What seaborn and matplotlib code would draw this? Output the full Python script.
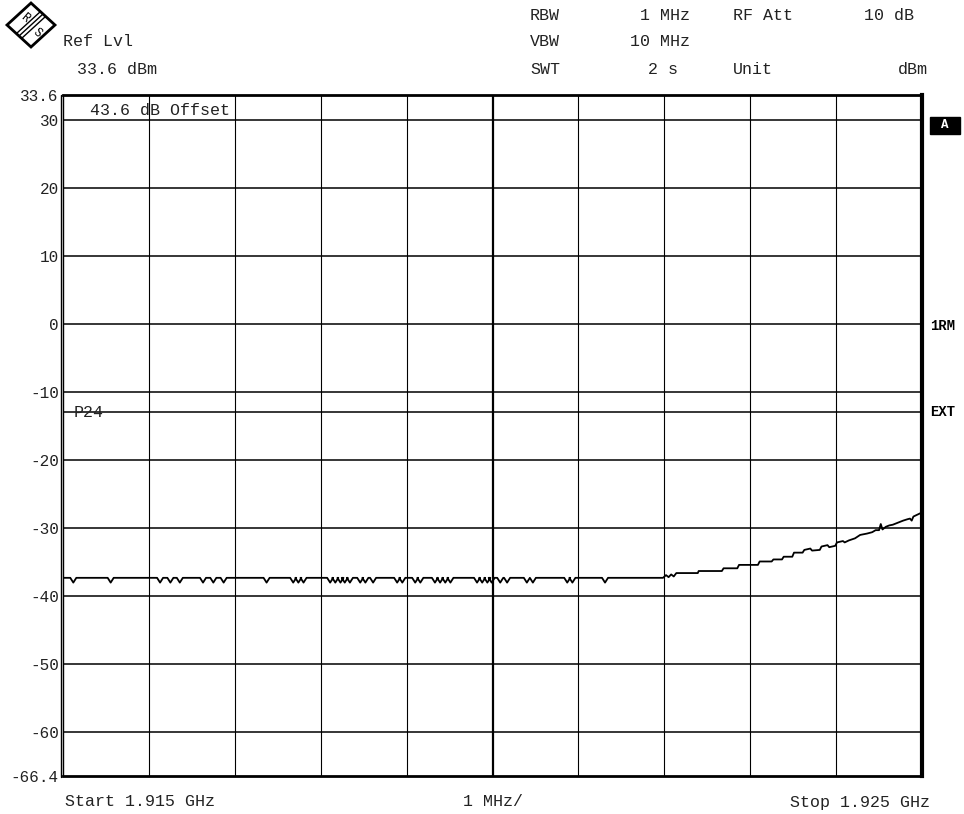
import pandas as pd
import seaborn as sns
import matplotlib.pyplot as plt
from matplotlib.patches import Polygon, Rectangle
from matplotlib.lines import Line2D

# sweep settings / header
start_mhz = 1915.0
stop_mhz = 1925.0
ref_lvl = 33.6
bottom_lvl = -66.4
limit_line = -13.0
y_ticks = [33.6, 30, 20, 10, 0, -10, -20, -30, -40, -50, -60, -66.4]
y_labels = ['33.6', '30', '20', '10', '0', '-10', '-20', '-30', '-40', '-50', '-60', '-66.4']

# flat part of the trace (offset in MHz from start) with small dips
flat_level = -37.3
dip_depth = 0.7
dip_offsets = [0.12, 0.555, 1.13, 1.25, 1.36, 1.63, 1.75, 1.87, 2.37, 2.68, 2.74, 2.80,
               3.11, 3.17, 3.23, 3.28, 3.34, 3.46, 3.52, 3.61, 3.89, 3.95, 4.10, 4.16,
               4.33, 4.39, 4.45, 4.51, 4.82, 4.88, 4.94, 4.99, 5.09, 5.17, 5.40, 5.47,
               5.87, 5.93, 6.31]

# rising part of the trace (offset MHz, dBm)
rise_offsets = [6.985, 7.02, 7.05, 7.08, 7.11, 7.14, 7.39, 7.40, 7.67, 7.69, 7.85, 7.87,
                8.09, 8.11, 8.25, 8.27, 8.37, 8.39, 8.49, 8.51, 8.61, 8.63, 8.70, 8.72,
                8.81, 8.83, 8.90, 8.92, 8.99, 9.01, 9.08, 9.10, 9.15, 9.22, 9.28, 9.36,
                9.42, 9.46, 9.50, 9.52, 9.54, 9.58, 9.62, 9.66, 9.72, 9.78, 9.83, 9.86,
                9.88, 9.90, 9.95, 10.0]
rise_levels = [-37.3, -36.9, -37.2, -36.8, -37.1, -36.6, -36.6, -36.3, -36.3, -35.9, -35.9, -35.4,
               -35.4, -34.9, -34.9, -34.6, -34.6, -34.2, -34.2, -33.6, -33.6, -33.2, -33.0, -33.3,
               -33.2, -32.7, -32.5, -32.8, -32.6, -32.1, -31.9, -32.1, -31.8, -31.5, -31.0, -30.8,
               -30.6, -30.3, -30.3, -29.4, -30.2, -29.8, -29.6, -29.5, -29.2, -28.9, -28.7, -28.6,
               -28.9, -28.3, -28.0, -27.7]

# build the trace table
freqs = [0.0]
levels = [flat_level]
for d in dip_offsets:
    freqs += [d - 0.035, d, d + 0.035]
    levels += [flat_level, flat_level - dip_depth, flat_level]
freqs += rise_offsets
levels += rise_levels
trace = pd.DataFrame({'freq': [start_mhz + f for f in freqs], 'level': levels})

sns.set_style('white')
plt.rcParams['font.family'] = ['Liberation Mono', 'DejaVu Sans Mono']
txt = '#222222'

W, H = 964, 814
fig = plt.figure(figsize=(W / 100, H / 100), dpi=100)
ax = fig.add_axes([63 / W, 1 - 776 / H, (922 - 63) / W, (776 - 95) / H])

def fx(px):
    return px / W

def fy(py):
    return 1 - py / H

# grid
for v in range(-60, 31, 10):
    ax.axhline(v, color='black', lw=1.1, zorder=1)
ax.axhline(limit_line, color='black', lw=1.1, zorder=1)
for i in range(1, 10):
    ax.axvline(start_mhz + i, color='black', lw=1.6 if i == 5 else 0.8, zorder=1)

sns.lineplot(data=trace, x='freq', y='level', ax=ax, color='black', lw=1.3,
             sort=False, estimator=None, zorder=3)

ax.set_xlim(start_mhz, stop_mhz)
ax.set_ylim(bottom_lvl, ref_lvl)
ax.set_xticks([])
ax.set_yticks(y_ticks)
ax.set_yticklabels(y_labels, fontsize=11.5, color=txt)
ax.tick_params(axis='y', length=0, pad=3)
ax.set_xlabel('')
ax.set_ylabel('')
for s in ['top', 'bottom']:
    ax.spines[s].set_linewidth(2.0)
ax.spines['left'].set_linewidth(1.0)
ax.spines['right'].set_linewidth(3.0)
for s in ax.spines.values():
    s.set_color('black')
fig.add_artist(Line2D([fx(61), fx(61)], [fy(95), fy(777)], color='black', lw=1.0))

# texts inside the plot
ax.text(start_mhz + 0.31, 30.2, '43.6 dB Offset', fontsize=12, color=txt, va='bottom')
ax.text(start_mhz + 0.12, limit_line, 'P24', fontsize=12, color=txt, va='center')

# header
fs = 12
fig.text(fx(63), fy(41), 'Ref Lvl', fontsize=fs, color=txt, va='center')
fig.text(fx(77), fy(69), '33.6 dBm', fontsize=fs, color=txt, va='center')
fig.text(fx(530), fy(15), 'RBW', fontsize=fs, color=txt, va='center')
fig.text(fx(690), fy(15), '1 MHz', fontsize=fs, color=txt, va='center', ha='right')
fig.text(fx(733), fy(15), 'RF Att', fontsize=fs, color=txt, va='center')
fig.text(fx(914), fy(15), '10 dB', fontsize=fs, color=txt, va='center', ha='right')
fig.text(fx(530), fy(42), 'VBW', fontsize=fs, color=txt, va='center')
fig.text(fx(690), fy(42), '10 MHz', fontsize=fs, color=txt, va='center', ha='right')
fig.text(fx(530), fy(70), 'SWT', fontsize=fs, color=txt, va='center')
fig.text(fx(678), fy(70), '2 s', fontsize=fs, color=txt, va='center', ha='right')
fig.text(fx(733), fy(70), 'Unit', fontsize=fs, color=txt, va='center')
fig.text(fx(928), fy(70), 'dBm', fontsize=fs, color=txt, va='center', ha='right')

# footer
fig.text(fx(65), fy(802), 'Start 1.915 GHz', fontsize=fs, color=txt, va='center')
fig.text(fx(493), fy(802), '1 MHz/', fontsize=fs, color=txt, va='center', ha='center')
fig.text(fx(930), fy(802), 'Stop 1.925 GHz', fontsize=fs, color=txt, va='center', ha='right')

# right side markers
fig.add_artist(Rectangle((fx(930), fy(134)), fx(30), 17 / H, color='black'))
fig.text(fx(945), fy(125), 'A', fontsize=9, color='white', weight='bold', ha='center', va='center')
fig.text(fx(930), fy(326), '1RM', fontsize=10, color='black', weight='bold', va='center')
fig.text(fx(930), fy(412), 'EXT', fontsize=10, color='black', weight='bold', va='center')

# R&S logo
cx, cy = 31, 25
logo = Polygon([(fx(cx), fy(cy - 22)), (fx(cx + 24), fy(cy)), (fx(cx), fy(cy + 22)), (fx(cx - 24), fy(cy))],
               closed=True, fill=False, edgecolor='black', lw=2.0)
fig.add_artist(logo)
for k in (-2.5, 0, 2.5):
    fig.add_artist(Line2D([fx(cx - 12 + k), fx(cx + 12 + k)], [fy(cy + 11 + k), fy(cy - 11 + k)],
                          color='black', lw=1.0))
fig.text(fx(cx - 6), fy(cy - 7), 'R', fontsize=8.5, color='black', ha='center', va='center', rotation=-40)
fig.text(fx(cx + 6), fy(cy + 8), 'S', fontsize=8.5, color='black', ha='center', va='center', rotation=-40)

fig.savefig('out.png', dpi=100)
